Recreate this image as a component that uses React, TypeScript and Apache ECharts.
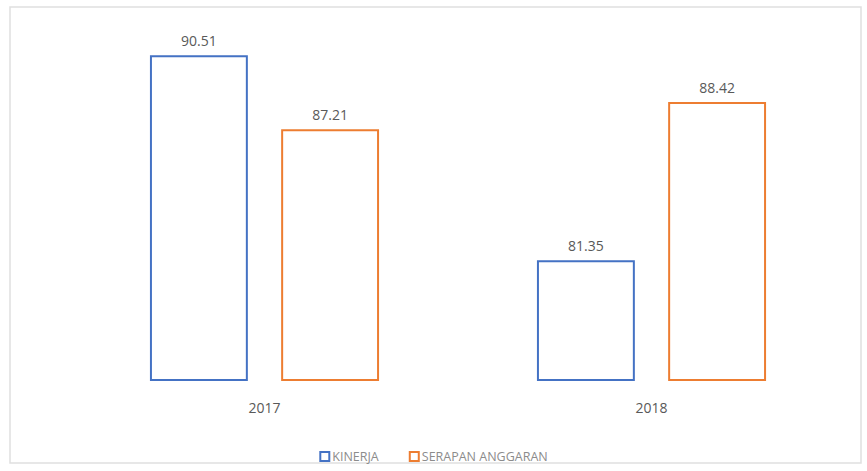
import React, { useEffect, useRef } from "react";
import * as echarts from "echarts";

const categories = ["2017", "2018"];
const kinerja = [90.51, 81.35];
const serapan = [87.21, 88.42];
const seriesNames = ["KINERJA", "SERAPAN ANGGARAN"];

export default function App() {
  const ref = useRef<HTMLDivElement>(null);
  useEffect(() => {
    const chart = echarts.init(ref.current!, null, { renderer: "svg" });
    const label = {
      show: true,
      position: "top",
      distance: 8,
      color: "#595959",
      fontSize: 14,
      fontFamily: "Open Sans",
      formatter: (p: any) => p.value.toFixed(2),
    };
    chart.setOption({
      animation: false,
      backgroundColor: "#ffffff",
      graphic: [
        {
          type: "rect",
          shape: { x: 10, y: 7, width: 851, height: 456 },
          style: { fill: "none", stroke: "#e0e0e0", lineWidth: 1.5 },
          silent: true,
        },
      ],
      grid: { left: 71, right: 22, top: 22, bottom: 91 },
      legend: {
        bottom: 3,
        left: "center",
        itemWidth: 9,
        itemHeight: 9,
        itemGap: 30,
        icon: "rect",
        textStyle: { color: "#8c8c8c", fontSize: 12.5, fontFamily: "Open Sans", padding: [0, 0, 0, -2] },
        data: seriesNames,
      },
      xAxis: {
        type: "category",
        data: categories,
        axisLine: { show: false },
        axisTick: { show: false },
        axisLabel: { color: "#595959", fontSize: 14, margin: 20, fontFamily: "Open Sans" },
      },
      yAxis: {
        type: "value",
        min: 76,
        max: 92,
        show: false,
        splitLine: { show: false },
      },
      series: [
        {
          name: seriesNames[0],
          type: "bar",
          data: kinerja,
          barWidth: "25.3%",
          barGap: "34%",
          itemStyle: { color: "#ffffff", borderColor: "#4472C4", borderWidth: 2 },
          label,
        },
        {
          name: seriesNames[1],
          type: "bar",
          data: serapan,
          barWidth: "25.3%",
          itemStyle: { color: "#ffffff", borderColor: "#ED7D31", borderWidth: 2 },
          label,
        },
      ],
    });
    return () => chart.dispose();
  }, []);
  return (
    <div
      ref={ref}
      style={{ position: "fixed", left: 0, top: 0, width: 867, height: 471 }}
    />
  );
}
